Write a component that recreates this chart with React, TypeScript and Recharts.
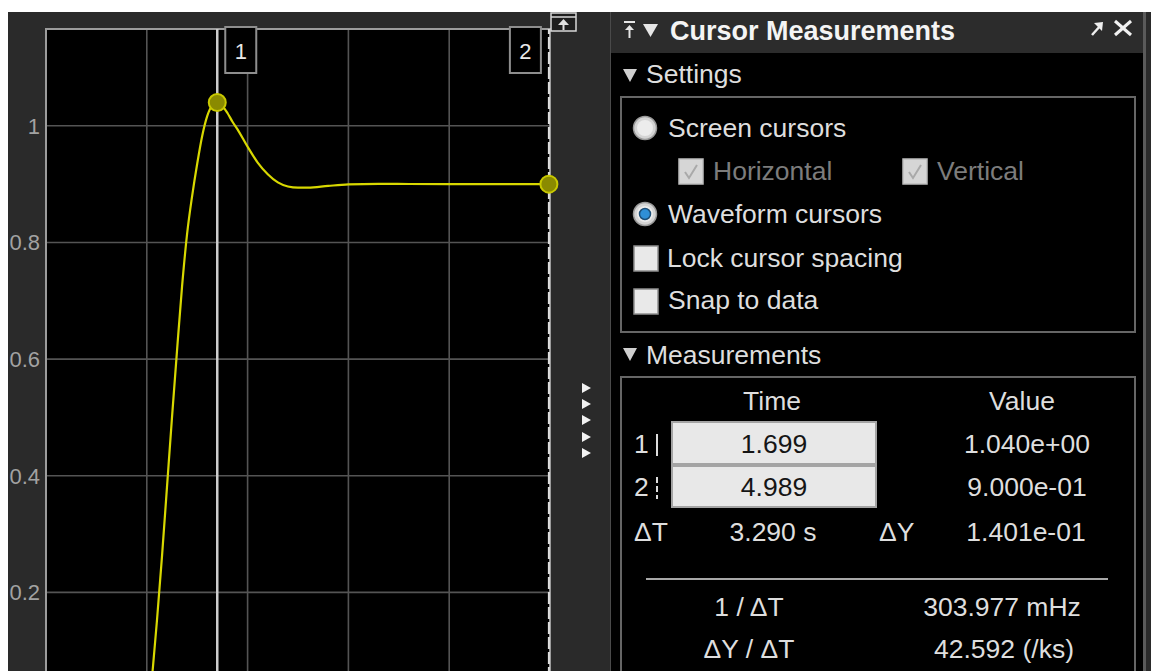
import React from 'react';
import { LineChart, Line, XAxis, YAxis, CartesianGrid, ReferenceLine, ReferenceDot, ReferenceArea } from 'recharts';

// step response (time in s)
const timeSec = [0, 0.5, 1.0, 1.03, 1.06, 1.1, 1.15, 1.2, 1.25, 1.3, 1.35, 1.4, 1.45, 1.5, 1.55, 1.6, 1.65, 1.699, 1.75, 1.8, 1.85, 1.9, 2.0, 2.1, 2.2, 2.3, 2.4, 2.5, 2.6, 2.8, 3.0, 3.3, 3.6, 4.0, 4.5, 4.989];
const response = [0, 0, 0, 0.015, 0.07, 0.15, 0.26, 0.38, 0.5, 0.615, 0.725, 0.815, 0.88, 0.935, 0.983, 1.017, 1.035, 1.04, 1.034, 1.022, 1.007, 0.994, 0.964, 0.937, 0.917, 0.903, 0.896, 0.894, 0.894, 0.897, 0.8995, 0.9005, 0.9002, 0.9, 0.9, 0.9];

const xTicks = [0, 1, 2, 3, 4, 5];
const yTicks = [0, 0.2, 0.4, 0.6, 0.8, 1];

const cursorTimes = [1.699, 4.989];
const cursorValues = [1.04, 0.9];

const FONT = "'Liberation Sans', Arial, sans-serif";
const TXT = '#dedede';
const DIM = '#7c7c7c';

const data = timeSec.map((t, i) => ({ t, v: response[i] }));

const CursorTag = (props: any) => {
  const { viewBox, n, side } = props;
  const x = side === 'right' ? viewBox.x + 8 : viewBox.x - 39;
  const y = viewBox.y - 2;
  return (
    <g>
      <rect x={x} y={y} width={31} height={46} fill="#000" stroke="#8e8e8e" strokeWidth={2} />
      <text x={x + 15.5} y={y + 32} textAnchor="middle" fill="#e8e8e8" fontSize={22}>{n}</text>
    </g>
  );
};

const T = ({ x, cy, children, color = TXT, bold = false, center = false, size = 26.5 }: any) => {
  const style: React.CSSProperties = {
    position: 'absolute', top: cy - 15, lineHeight: '30px', fontSize: size, color,
    fontWeight: bold ? 700 : 400, whiteSpace: 'nowrap',
  };
  if (center) { style.left = x - 150; style.width = 300; style.textAlign = 'center'; } else style.left = x;
  return <div style={style}>{children}</div>;
};

const CheckBox = ({ x, y, disabled, checked }: any) => (
  <g>
    <rect x={x} y={y} width={24} height={25} fill={disabled ? '#d6d6d6' : '#e9e9e9'} stroke={disabled ? '#bdbdbd' : '#8e8e8e'} strokeWidth={1.5} />
    {checked && <path d={`M${x + 6} ${y + 13} L${x + 10} ${y + 19} L${x + 18} ${y + 6}`} stroke="#a9a9a9" strokeWidth={2} fill="none" />}
  </g>
);

const Radio = ({ cx, cy, on }: any) => (
  <g>
    <circle cx={cx} cy={cy} r={11.5} fill="#d4d4d4" stroke="#9a9a9a" strokeWidth={1.5} />
    <circle cx={cx} cy={cy} r={8} fill="#ececec" />
    {on && <circle cx={cx} cy={cy} r={5.5} fill="#2f8fd6" stroke="#1d4f78" strokeWidth={1.5} />}
  </g>
);

const Tri = ({ x, y }: any) => <polygon points={`${x},${y} ${x + 14},${y} ${x + 7},${y + 13}`} fill="#cfcfcf" />;

export default function App() {
  return (
    <div style={{ position: 'absolute', left: 0, top: 0, width: 1151, height: 671, overflow: 'hidden', background: '#fff', fontFamily: FONT }}>
      <div style={{ position: 'absolute', left: 8, top: 12, width: 602, height: 659, background: '#2a2a2a', overflow: 'hidden' }}>
        <LineChart width={561} height={702} data={data} margin={{ top: 17, right: 19, left: 0, bottom: 5 }}>
          <CartesianGrid stroke="#545454" strokeWidth={1.6} fill="#000" fillOpacity={1} />
          <XAxis type="number" dataKey="t" domain={[0, 5]} ticks={xTicks} hide />
          <YAxis
            type="number"
            domain={[0, 1.166]}
            ticks={yTicks}
            width={38}
            axisLine={false}
            tickLine={false}
            tickSize={0}
            tickMargin={6}
            tick={{ fill: '#a2a2a2', fontSize: 22 }}
          />
          <ReferenceArea x1={0} x2={5} y1={0} y2={1.166} fill="none" stroke="#9c9c9c" strokeWidth={2} />
          <Line type="monotone" dataKey="v" stroke="#d8d800" strokeWidth={2.2} dot={false} isAnimationActive={false} />
          <ReferenceLine x={cursorTimes[0]} stroke="#cdcdcd" strokeWidth={2.5} label={<CursorTag n="1" side="right" />} />
          <ReferenceLine x={cursorTimes[1]} stroke="#dedede" strokeWidth={2} strokeDasharray="12 3" label={<CursorTag n="2" side="left" />} />
          <ReferenceDot x={cursorTimes[0]} y={cursorValues[0]} r={8.5} fill="#8a8a00" stroke="#c8c800" strokeWidth={2} />
          <ReferenceDot x={cursorTimes[1]} y={cursorValues[1]} r={8.5} fill="#8a8a00" stroke="#c8c800" strokeWidth={2} />
        </LineChart>
      </div>

      <svg width={1151} height={671} style={{ position: 'absolute', left: 0, top: 0 }}>
        {/* toolbar icon + collapsed arrows between plot and panel */}
        <rect x={551} y={13} width={25} height={18} fill="#1e1e1e" stroke="#d8d8d8" strokeWidth={1.5} />
        <line x1={551} y1={17} x2={576} y2={17} stroke="#d8d8d8" strokeWidth={1.5} />
        <polygon points="563.5,19 558,25 569,25" fill="#e0e0e0" />
        <rect x={562.5} y={25} width={2} height={5} fill="#e0e0e0" />
        {[388, 404, 420, 437, 453].map((y) => (
          <polygon key={y} points={`582,${y - 5} 591,${y} 582,${y + 5}`} fill="#f2f2f2" />
        ))}

        {/* panel */}
        <rect x={610} y={12} width={536} height={659} fill="#000" />
        <rect x={611} y={12} width={532} height={41} fill="#2c2c2c" />
        <line x1={610.5} y1={12} x2={610.5} y2={671} stroke="#4a4a4a" />
        <rect x={1143} y={12} width={3} height={659} fill="#5a5a5a" />
        <rect x={1146} y={12} width={5} height={659} fill="#2a2a2a" />

        <line x1={624} y1={22} x2={635} y2={22} stroke="#e6e6e6" strokeWidth={2} />
        <polygon points="629.5,25 625,30 634,30" fill="#e6e6e6" />
        <line x1={629.5} y1={30} x2={629.5} y2={38} stroke="#e6e6e6" strokeWidth={2} />
        <polygon points="643,24 658,24 650.5,37" fill="#e6e6e6" />
        <line x1={1092} y1={35} x2={1101} y2={25} stroke="#eeeeee" strokeWidth={2.5} />
        <polygon points="1103,22 1094,23 1102,31" fill="#eeeeee" />
        <line x1={1115} y1={21} x2={1131} y2={35} stroke="#f2f2f2" strokeWidth={3} />
        <line x1={1131} y1={21} x2={1115} y2={35} stroke="#f2f2f2" strokeWidth={3} />

        <Tri x={623} y={69} />
        <rect x={621} y={97} width={514} height={235} fill="none" stroke="#666" strokeWidth={2} />
        <Radio cx={645} cy={128} on={false} />
        <CheckBox x={679} y={159} disabled checked />
        <CheckBox x={903} y={159} disabled checked />
        <Radio cx={645} cy={214} on />
        <CheckBox x={634} y={246} />
        <CheckBox x={634} y={289} />

        <Tri x={623} y={348} />
        <rect x={621} y={377} width={514} height={330} fill="none" stroke="#666" strokeWidth={2} />
        <rect x={672} y={422} width={204} height={42} fill="#e8e8e8" stroke="#a4a4a4" strokeWidth={2} />
        <rect x={672} y={466} width={204} height={41} fill="#e8e8e8" stroke="#a4a4a4" strokeWidth={2} />
        <line x1={657} y1={434} x2={657} y2={456} stroke="#dcdcdc" strokeWidth={2} />
        <line x1={657} y1={477} x2={657} y2={499} stroke="#dcdcdc" strokeWidth={2} strokeDasharray="6 3" />
        <line x1={646} y1={579} x2={1108} y2={579} stroke="#a8a8a8" strokeWidth={2} />
      </svg>

      <T x={670} cy={31} bold size={27} color="#f4f4f4">Cursor Measurements</T>
      <T x={646} cy={74}>Settings</T>
      <T x={668} cy={128}>Screen cursors</T>
      <T x={713} cy={171} color={DIM}>Horizontal</T>
      <T x={937} cy={171} color={DIM}>Vertical</T>
      <T x={668} cy={214}>Waveform cursors</T>
      <T x={667} cy={258}>Lock cursor spacing</T>
      <T x={668} cy={300}>Snap to data</T>

      <T x={646} cy={355}>Measurements</T>
      <T x={772} cy={401} center>Time</T>
      <T x={1022} cy={401} center>Value</T>
      <T x={634} cy={444}>1</T>
      <T x={634} cy={487}>2</T>
      <T x={774} cy={444} center color="#151515">1.699</T>
      <T x={774} cy={487} center color="#151515">4.989</T>
      <T x={1027} cy={444} center>1.040e+00</T>
      <T x={1027} cy={487} center>9.000e-01</T>
      <T x={634} cy={532}>ΔT</T>
      <T x={773} cy={532} center>3.290 s</T>
      <T x={879} cy={532}>ΔY</T>
      <T x={1026} cy={532} center>1.401e-01</T>
      <T x={749} cy={607} center>1 / ΔT</T>
      <T x={1002} cy={607} center>303.977 mHz</T>
      <T x={749} cy={649} center>ΔY / ΔT</T>
      <T x={1004} cy={649} center>42.592 (/ks)</T>
    </div>
  );
}
